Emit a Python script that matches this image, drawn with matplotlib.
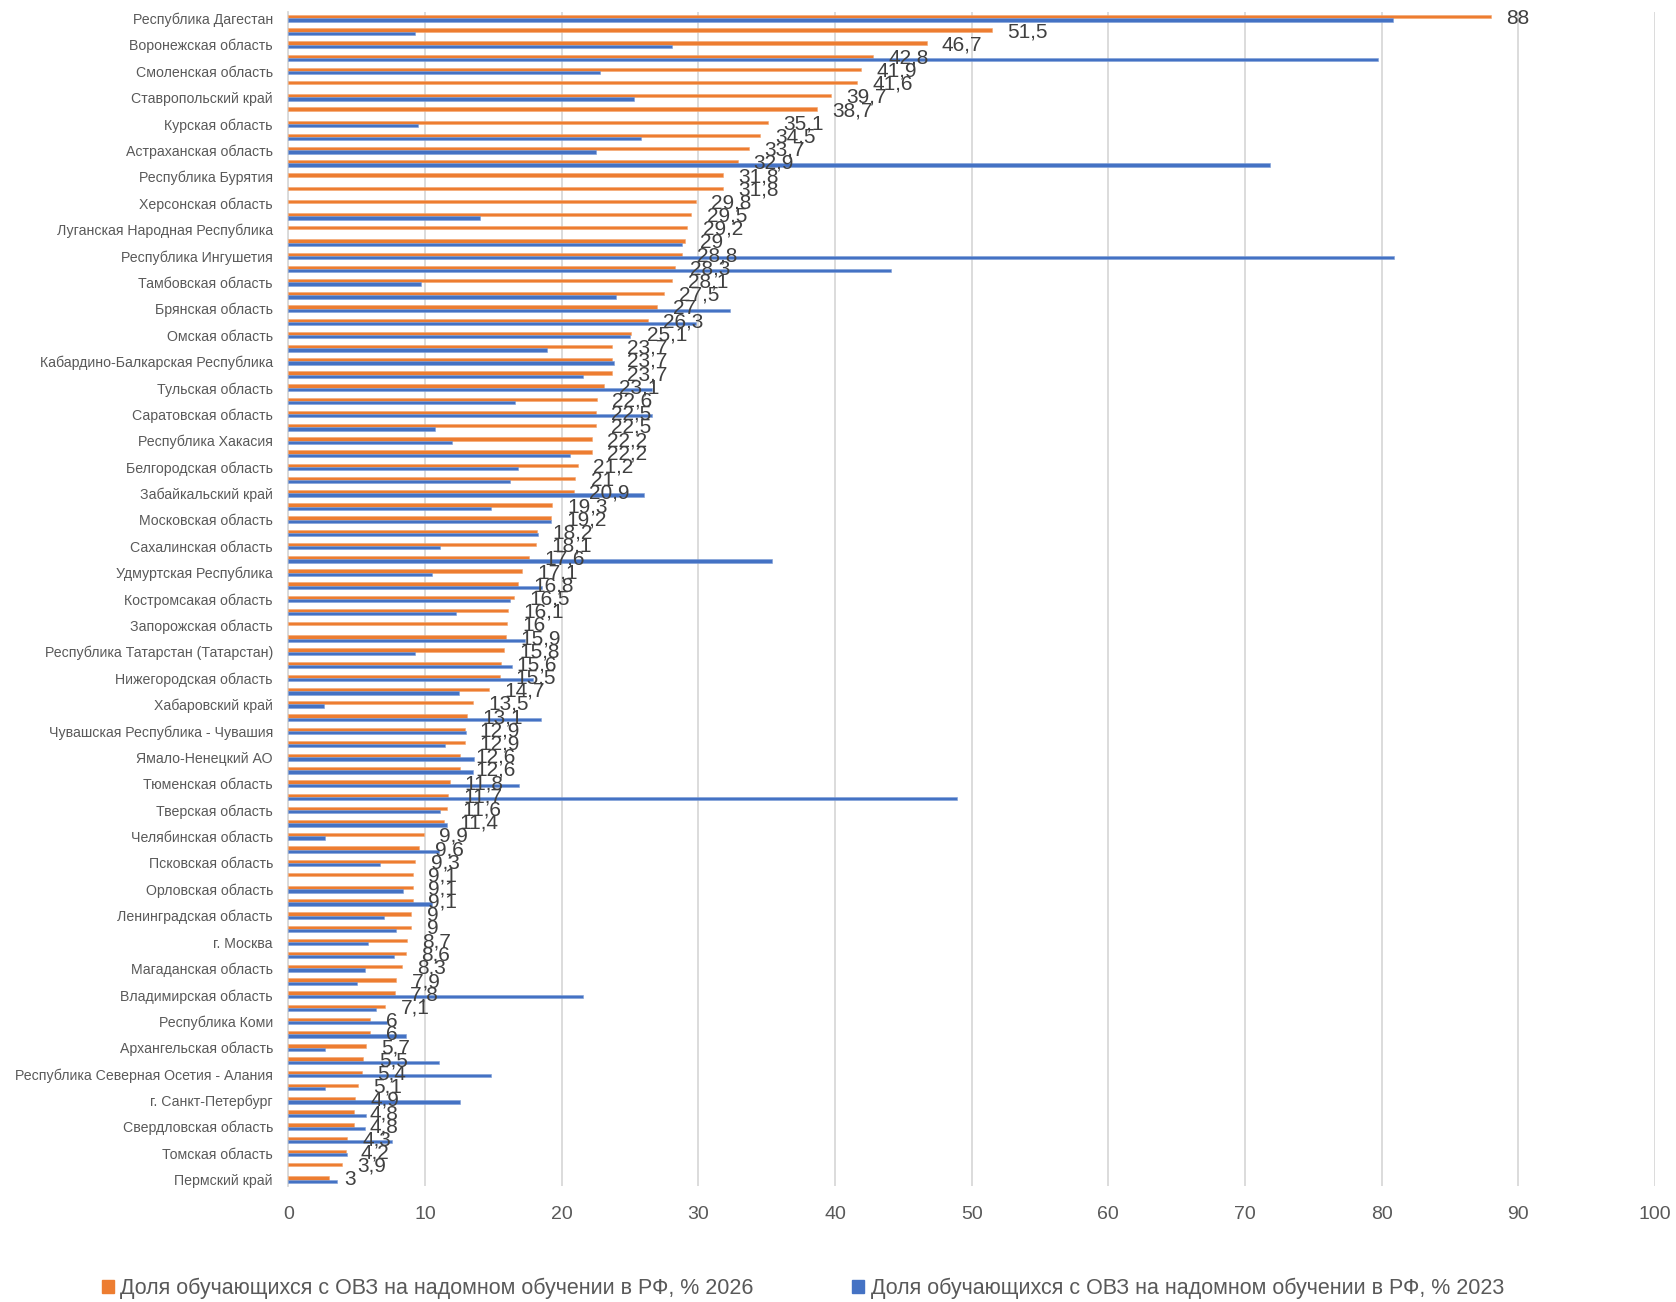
#!/usr/bin/env python3

# Horizontal bars: share of pupils with disabilities on home schooling by region
import numpy as np
import matplotlib
matplotlib.use('Agg')
import matplotlib.pyplot as plt
from matplotlib.patches import Patch

# Data ============================================================== 
# only every other category name is printed on the axis
labels_shown=["Республика Дагестан","Воронежская область","Смоленская область",
    "Ставропольский край","Курская область","Астраханская область",
    "Республика Бурятия","Херсонская область","Луганская Народная Республика",
    "Республика Ингушетия","Тамбовская область","Брянская область",
    "Омская область","Кабардино-Балкарская Республика","Тульская область",
    "Саратовская область","Республика Хакасия","Белгородская область",
    "Забайкальский край","Московская область","Сахалинская область",
    "Удмуртская Республика","Костромсакая область","Запорожская область",
    "Республика Татарстан (Татарстан)","Нижегородская область","Хабаровский край",
    "Чувашская Республика - Чувашия","Ямало-Ненецкий АО","Тюменская область",
    "Тверская область","Челябинская область","Псковская область",
    "Орловская область","Ленинградская область","г. Москва",
    "Магаданская область","Владимирская область","Республика Коми",
    "Архангельская область","Республика Северная Осетия - Алания",
    "г. Санкт-Петербург","Свердловская область","Томская область","Пермский край"]

share_2026=[88, 51.5, 46.7, 42.8, 41.9, 41.6, 39.7, 38.7, 35.1, 34.5,
    33.7, 32.9, 31.8, 31.8, 29.8, 29.5, 29.2, 29, 28.8, 28.3,
    28.1, 27.5, 27, 26.3, 25.1, 23.7, 23.7, 23.7, 23.1, 22.6,
    22.5, 22.5, 22.2, 22.2, 21.2, 21, 20.9, 19.3, 19.2, 18.2,
    18.1, 17.6, 17.1, 16.8, 16.5, 16.1, 16, 15.9, 15.8, 15.6,
    15.5, 14.7, 13.5, 13.1, 12.9, 12.9, 12.6, 12.6, 11.8, 11.7,
    11.6, 11.4, 9.9, 9.6, 9.3, 9.1, 9.1, 9.1, 9, 9,
    8.7, 8.6, 8.3, 7.9, 7.8, 7.1, 6, 6, 5.7, 5.5,
    5.4, 5.1, 4.9, 4.8, 4.8, 4.3, 4.2, 3.9, 3]

nan=np.nan
share_2023=[80.8, 9.3, 28.1, 79.7, 22.8, nan, 25.3, nan, 9.5, 25.8,
    22.5, 71.8, nan, nan, nan, 14.0, nan, 28.8, 80.9, 44.1,
    9.7, 24.0, 32.3, 29.8, 25.0, 18.9, 23.8, 21.6, 26.6, 16.6,
    26.6, 10.7, 12.0, 20.6, 16.8, 16.2, 26.0, 14.8, 19.2, 18.3,
    11.1, 35.4, 10.5, 18.6, 16.2, 12.3, nan, 17.3, 9.3, 16.4,
    17.9, 12.5, 2.6, 18.5, 13.0, 11.5, 13.6, 13.5, 16.9, 48.9,
    11.1, 11.6, 2.7, 11.0, 6.7, nan, 8.4, 10.5, 7.0, 7.9,
    5.8, 7.7, 5.6, 5.0, 21.6, 6.4, 7.2, 8.6, 2.7, 11.0,
    14.8, 2.7, 12.6, 5.7, 5.6, 7.6, 4.3, nan, 3.6]

series_names=["Доля обучающихся с ОВЗ на надомном обучении в РФ, % 2026",
              "Доля обучающихся с ОВЗ на надомном обучении в РФ, % 2023"]


# Main ==============================================================
def main():
    plt.rcParams['font.family']=['Liberation Sans','DejaVu Sans']
    c_org='#ED7D31'
    c_blu='#4472C4'
    c_txt='#595959'
    c_grid='#D9D9D9'
    bar_h=0.25

    n=len(share_2026)
    ypos=np.arange(n)

    fig=plt.figure(figsize=(16.76,13.02),dpi=100)
    ax=fig.add_axes([0.172,0.089,0.8155,0.902])

    ax.barh(ypos-bar_h/2,share_2026,height=bar_h,color=c_org,
            edgecolor='#F4A771',linewidth=0.4,zorder=3)
    ax.barh(ypos+bar_h/2,share_2023,height=bar_h,color=c_blu,
            edgecolor='#7F9FD8',linewidth=0.4,zorder=3)

    # data labels for 2026 only
    for y,v in zip(ypos,share_2026):
        ax.annotate(f"{v:g}".replace('.',','),xy=(v,y),xytext=(11,0),
                    textcoords='offset points',ha='left',va='center',
                    fontsize=15,color='#404040',zorder=4)

    ax.set_xlim(0,100)
    ax.set_ylim(n-0.5,-0.5)
    ax.set_xticks(np.arange(0,101,10))
    ax.set_yticks(ypos[::2])
    ax.set_yticklabels(labels_shown)
    ax.tick_params(axis='y',length=0,pad=11,labelsize=10.2,labelcolor=c_txt)
    ax.tick_params(axis='x',length=0,pad=14,labelsize=14,labelcolor=c_txt)
    ax.grid(axis='x',color=c_grid,linewidth=1.3,zorder=0)
    for s in ['top','right','bottom']:
        ax.spines[s].set_visible(False)
    ax.spines['left'].set_color(c_grid)
    ax.spines['left'].set_linewidth(1.3)

    handles=[Patch(color=c_org),Patch(color=c_blu)]
    fig.legend(handles,series_names,loc='center',bbox_to_anchor=(0.479,0.0105),
               ncol=2,frameon=False,fontsize=15.5,labelcolor=c_txt,
               handlelength=0.55,handleheight=0.55,handletextpad=0.3,
               columnspacing=4.6)

    plt.savefig('out.png',dpi=100)
    plt.close('all')


if __name__=='__main__':
    main()
